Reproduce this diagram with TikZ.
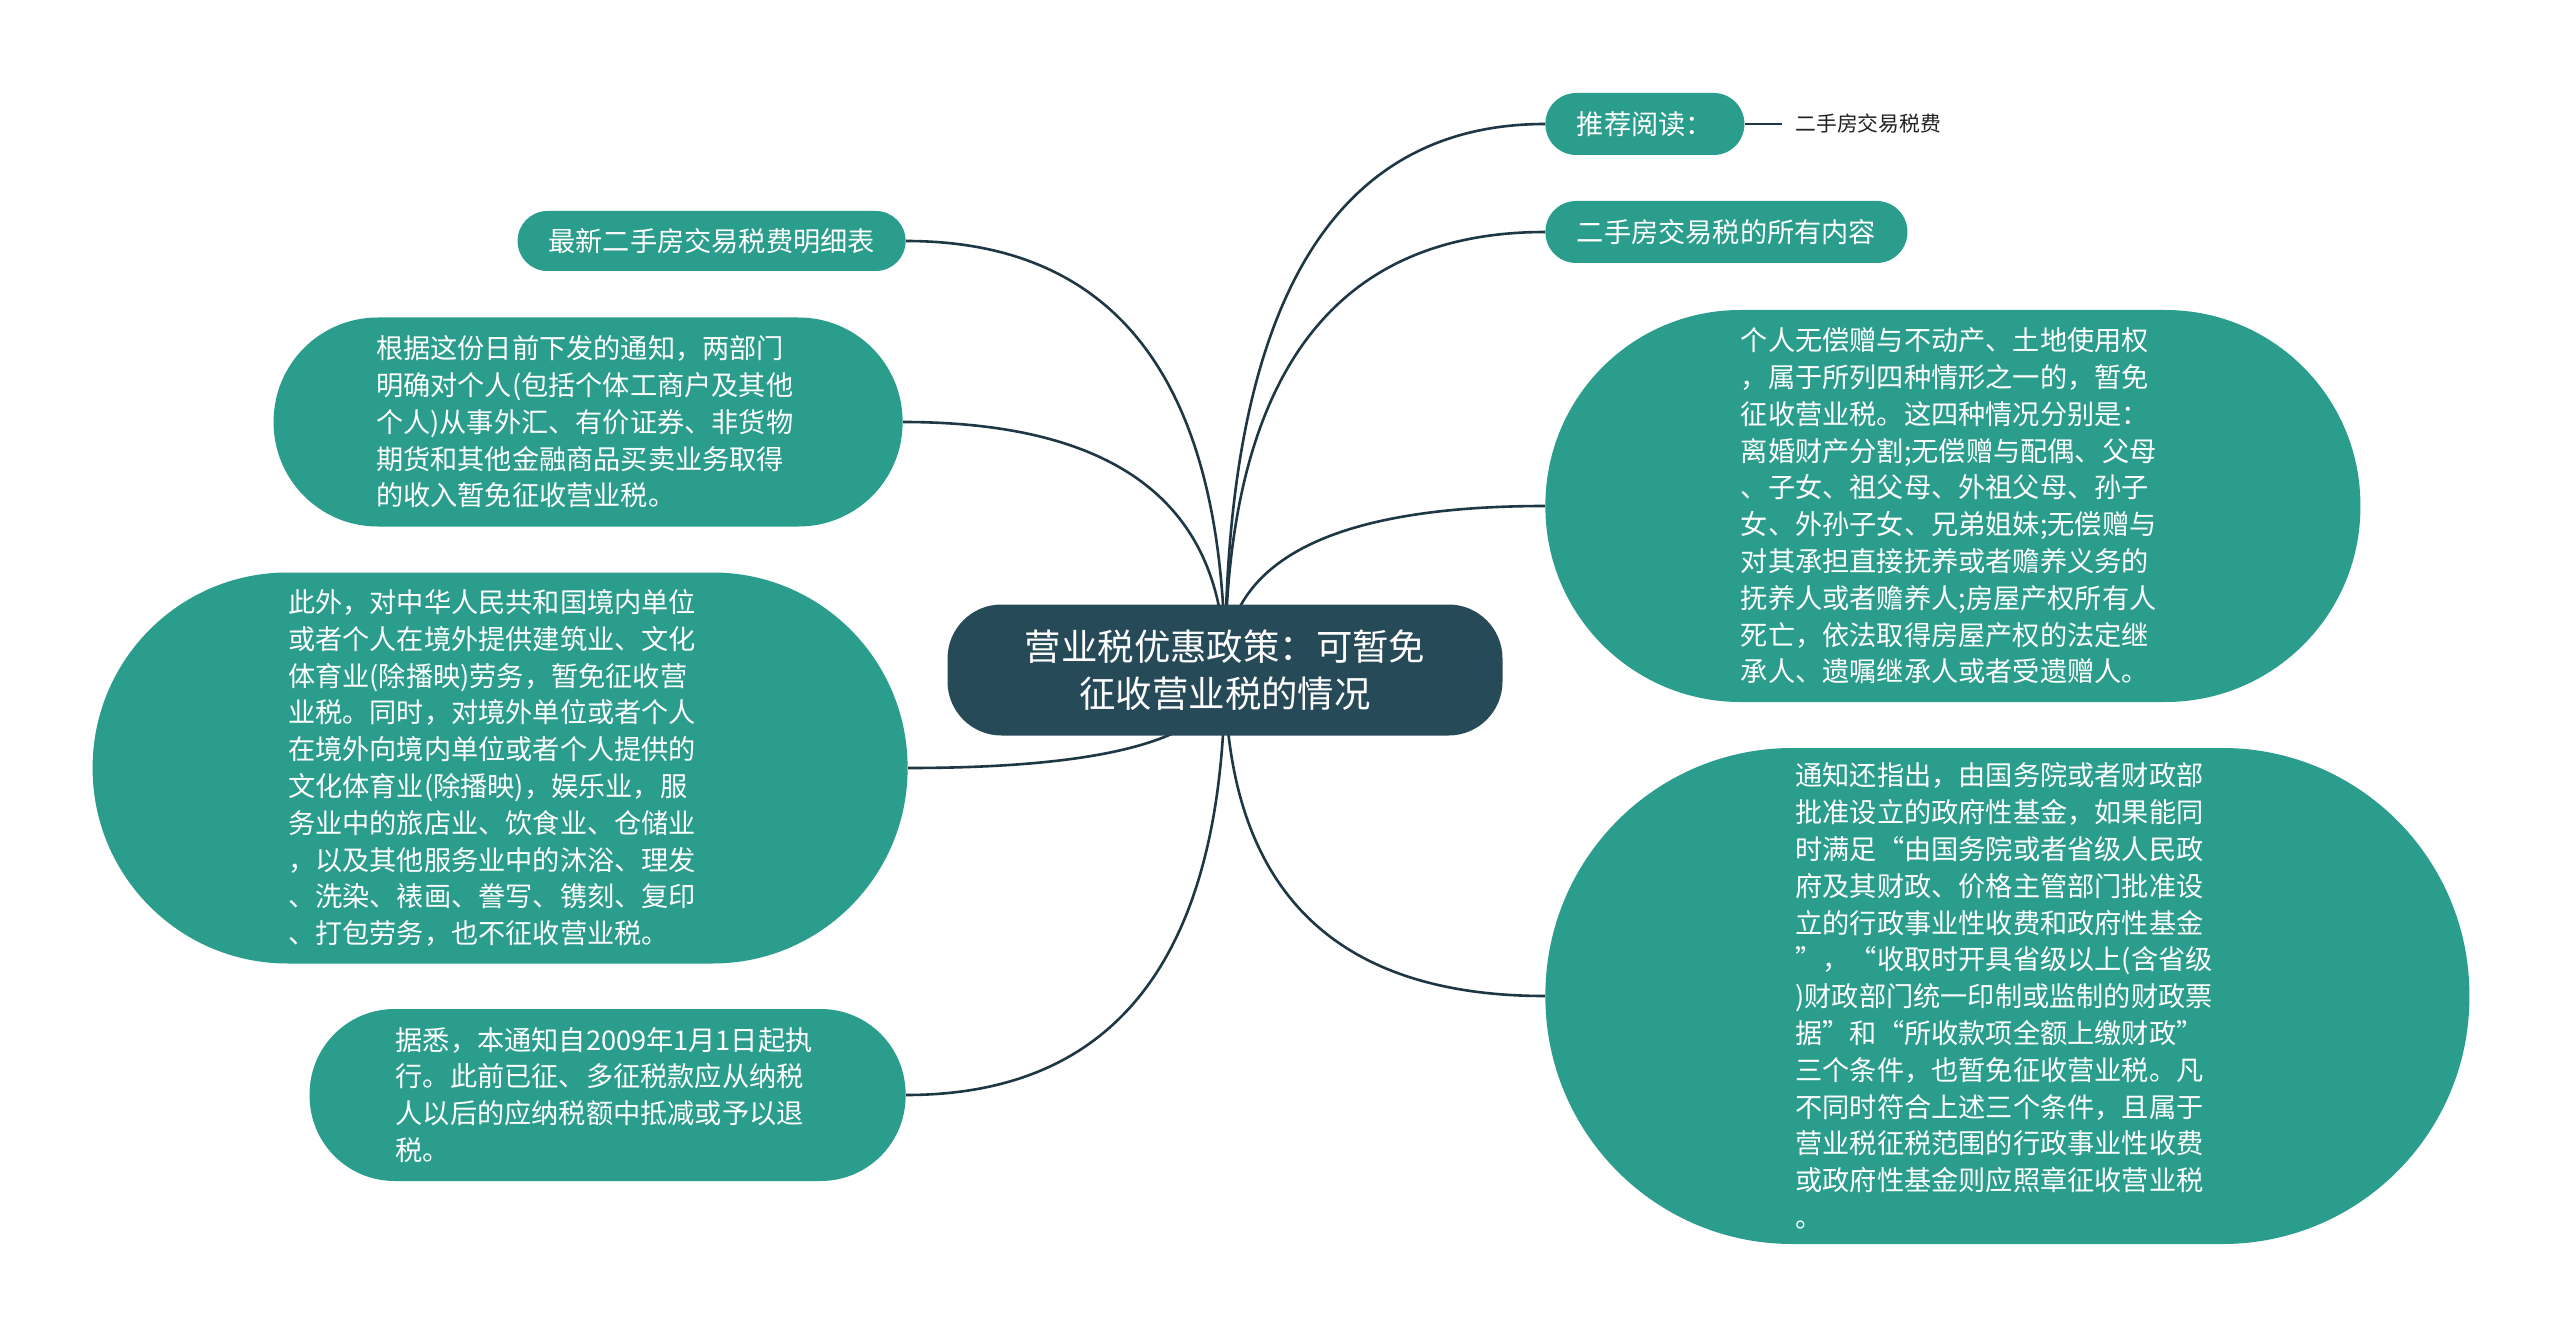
\documentclass[tikz,border=0pt]{standalone}
\usepackage{fontspec}
\setmainfont{Noto Sans CJK SC}
\usepackage{xcolor}
\usepackage{tikz}
\usetikzlibrary{calc, backgrounds}
\definecolor{MapTeal}{RGB}{42, 157, 140}
\definecolor{MapRoot}{RGB}{39, 74, 88}
\definecolor{MapLine}{RGB}{30, 55, 68}
\definecolor{MapInk}{RGB}{34, 34, 34}

\tikzset{
  topic/.style={rectangle, fill=MapTeal, text=white, inner xsep=0pt, inner ysep=0pt,
    align=left, font=\fontsize{13.6}{18.4}\selectfont},
  branch line/.style={MapLine, line width=1.3pt},
  branch/.style={to path={.. controls ($(\tikztostart)!0.667!(\tikztostart|-\tikztotarget)$)
    and ($(\tikztotarget)!0.667!(\tikztostart|-\tikztotarget)$) .. (\tikztotarget)}}
}

\begin{document}
\begin{tikzpicture}[x=0.5pt,y=-0.5pt]
  \path[use as bounding box] (0,0) rectangle (2560,1337);

  % centre
  \node[fill=MapRoot, text=white, rounded corners=27pt, minimum width=277.5pt, minimum height=65.5pt,
        align=center, font=\fontsize{18.2}{23.5}\selectfont] (root) at (1225,670)
    {营业税优惠政策：可暂免\\征收营业税的情况};

  % right side
  \node[topic, minimum width=99.5pt, minimum height=31pt, rounded corners=15.4pt, anchor=west]
    (rec) at (1545,124) {推荐阅读：};
  \node[anchor=west, inner sep=0pt, text=MapInk, font=\fontsize{10.4}{12}\selectfont] (sub) at (1795,124)
    {二手房交易税费};
  \node[topic, minimum width=181pt, minimum height=31pt, rounded corners=15.4pt, anchor=west]
    (all) at (1545,232) {二手房交易税的所有内容};
  \node[topic, text width=212pt, minimum width=407.5pt, minimum height=196pt, rounded corners=97.5pt,
        anchor=west] (gift) at (1545,506) {
    个人无偿赠与不动产、土地使用权\\
    ，属于所列四种情形之一的，暂免\\
    征收营业税。这四种情况分别是：\\
    离婚财产分割;无偿赠与配偶、父母\\
    、子女、祖父母、外祖父母、孙子\\
    女、外孙子女、兄弟姐妹;无偿赠与\\
    对其承担直接抚养或者赡养义务的\\
    抚养人或者赡养人;房屋产权所有人\\
    死亡，依法取得房屋产权的法定继\\
    承人、遗嘱继承人或者受遗赠人。};
  \node[topic, text width=212pt, minimum width=462pt, minimum height=248pt, rounded corners=123.5pt,
        anchor=west] (fund) at (1545,996) {
    通知还指出，由国务院或者财政部\\
    批准设立的政府性基金，如果能同\\
    时满足“由国务院或者省级人民政\\
    府及其财政、价格主管部门批准设\\
    立的行政事业性收费和政府性基金\\
    ”，“收取时开具省级以上(含省级\\
    )财政部门统一印制或监制的财政票\\
    据”和“所收款项全额上缴财政”\\
    三个条件，也暂免征收营业税。凡\\
    不同时符合上述三个条件，且属于\\
    营业税征税范围的行政事业性收费\\
    或政府性基金则应照章征收营业税\\
    。};

  % left side
  \node[topic, minimum width=194pt, minimum height=30pt, rounded corners=14.9pt, anchor=east]
    (table) at (906,241) {最新二手房交易税费明细表};
  \node[topic, text width=212pt, minimum width=314.5pt, minimum height=104.5pt, rounded corners=52pt,
        anchor=east] (finance) at (903,422) {
    根据这份日前下发的通知，两部门\\
    明确对个人(包括个体工商户及其他\\
    个人)从事外汇、有价证券、非货物\\
    期货和其他金融商品买卖业务取得\\
    的收入暂免征收营业税。};
  \node[topic, text width=212pt, minimum width=407.5pt, minimum height=195.5pt, rounded corners=97.5pt,
        anchor=east] (abroad) at (908,768) {
    此外，对中华人民共和国境内单位\\
    或者个人在境外提供建筑业、文化\\
    体育业(除播映)劳务，暂免征收营\\
    业税。同时，对境外单位或者个人\\
    在境外向境内单位或者个人提供的\\
    文化体育业(除播映)，娱乐业，服\\
    务业中的旅店业、饮食业、仓储业\\
    ，以及其他服务业中的沐浴、理发\\
    、洗染、裱画、誊写、镌刻、复印\\
    、打包劳务，也不征收营业税。};
  \node[topic, text width=212pt, minimum width=298pt, minimum height=86pt, rounded corners=42.5pt,
        anchor=east] (refund) at (906,1095) {
    据悉，本通知自2009年1月1日起执\\
    行。此前已征、多征税款应从纳税\\
    人以后的应纳税额中抵减或予以退\\
    税。};

  % branches
  \begin{scope}[on background layer]
    \fill[white] (0,0) rectangle (2560,1337);
    \draw[branch line] (root.center) to[branch] (rec.west);
    \draw[branch line] (root.center) to[branch] (all.west);
    \draw[branch line] (root.center) to[branch] (gift.west);
    \draw[branch line] (root.center) to[branch] (fund.west);
    \draw[branch line] (root.center) to[branch] (table.east);
    \draw[branch line] (root.center) to[branch] (finance.east);
    \draw[branch line] (root.center) to[branch] (abroad.east);
    \draw[branch line] (root.center) to[branch] (refund.east);
  \end{scope}
  \draw[branch line] (rec.east) -- (sub.west -| 1782,0);
\end{tikzpicture}
\end{document}
